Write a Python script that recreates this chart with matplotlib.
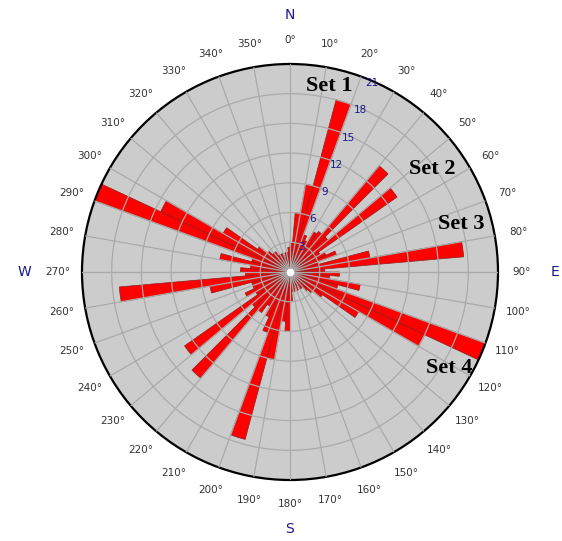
import numpy as np
import matplotlib
matplotlib.use("Agg")
import matplotlib.pyplot as plt

# 5-degree bins, start angles 0..355 (clockwise from North)
bin_starts = list(range(0, 360, 5))
counts = [3, 6, 9, 18, 4, 3.5, 4.7, 5, 14, 5, 13.2, 3.5,
          4, 5, 3, 8.2, 17.6, 3.5, 5, 4, 7.2, 5, 21, 15,
          8, 4, 3, 2.5, 2, 2, 1.5, 2, 1.5, 2, 2, 3,
          6, 5, 9, 17.5, 6.5, 5, 4, 5, 14, 5, 13, 4,
          5, 4, 4, 8.2, 17.3, 4.5, 5, 4, 7.2, 4, 21, 14.4,
          7.8, 4, 3, 2.5, 2.5, 2, 2, 2, 1.5, 2, 2, 2.5]
radial_ticks = [3, 6, 9, 12, 15, 18, 21]
angle_ticks = list(range(0, 360, 10))
cardinals = ["N", "E", "S", "W"]
set_labels = ["Set 1", "Set 2", "Set 3", "Set 4"]
set_pos = [(11.8, 19.2), (54, 17.7), (74.3, 18.0), (121, 18.8)]  # (deg, r)

W, H = 562, 541
fig = plt.figure(figsize=(W / 100, H / 100), dpi=100)
cx, cy, R = 290, 272, 208
ax = fig.add_axes([(cx - R) / W, (H - cy - R) / H, 2 * R / W, 2 * R / H], projection="polar")
ax.set_theta_zero_location("N")
ax.set_theta_direction(-1)
ax.set_facecolor("#cccccc")
rmax = 21
ax.set_ylim(0, rmax)

theta = np.deg2rad(np.array(bin_starts) + 2.5)
ax.bar(theta, counts, width=np.deg2rad(5), bottom=0, color="#ff0000",
       edgecolor="#8a2020", linewidth=0.5, zorder=1)

ax.set_axisbelow(False)
ax.set_xticks(np.deg2rad(angle_ticks))
ax.set_xticklabels([])
ax.set_yticks(radial_ticks[:-1])
ax.set_yticklabels([])
ax.grid(True, color="#aaaaaa", linewidth=0.9)
ax.spines["polar"].set_color("black")
ax.spines["polar"].set_linewidth(1.6)

# center dot
ax.plot([0], [0], "o", color="white", markersize=4.5, zorder=5)

# angle labels
for a in angle_ticks:
    ax.text(np.deg2rad(a), 23.4, f"{a}°", ha="center", va="center",
            fontsize=7.5, color="#333333", clip_on=False)
# cardinal labels
for lab, a, r in zip(cardinals, [0, 90, 180, 270], [25.9, 26.8, 25.9, 26.8]):
    ax.text(np.deg2rad(a), r, lab, ha="center", va="center", fontsize=10,
            color="#1a1a8c", clip_on=False)
# radial labels
for v in radial_ticks:
    ax.text(np.deg2rad(23.5), v - 0.2, str(v), ha="center", va="center",
            fontsize=7.5, color="#1a1a8c", zorder=6)
# set labels
for lab, (a, r) in zip(set_labels, set_pos):
    ax.text(np.deg2rad(a), r, lab, ha="center", va="center", fontsize=16,
            fontweight="bold", family="Liberation Serif", color="black", zorder=7)

fig.savefig("out.png", dpi=100)
